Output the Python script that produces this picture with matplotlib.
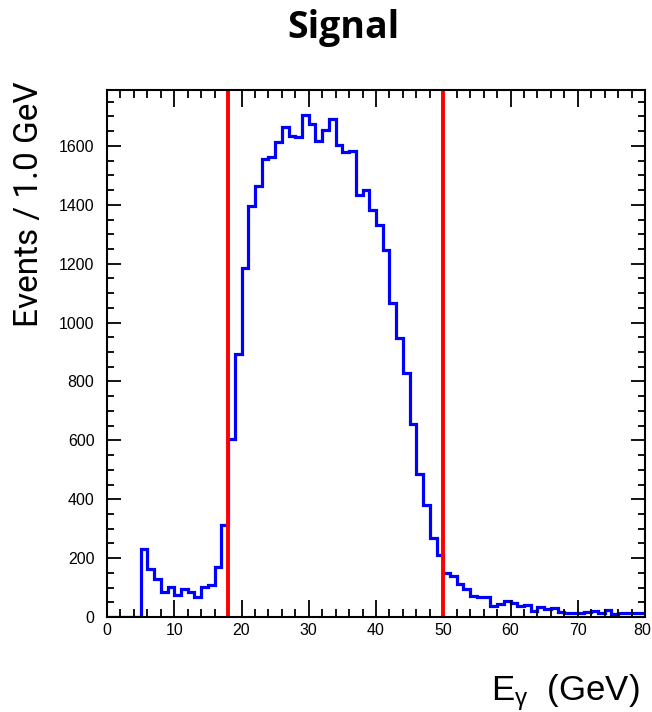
import numpy as np
import matplotlib
matplotlib.use("Agg")
import matplotlib.pyplot as plt
import matplotlib.transforms as mtransforms
from matplotlib.ticker import MultipleLocator

edges = np.arange(0, 81, 1.0)
counts = [0, 0, 0, 0, 0, 231, 162, 128, 84, 101,
          75, 94, 85, 69, 103, 108, 169, 311, 603, 892,
          1184, 1397, 1464, 1555, 1564, 1613, 1666, 1635, 1629, 1705,
          1675, 1618, 1654, 1690, 1603, 1578, 1584, 1432, 1450, 1382,
          1332, 1247, 1068, 946, 828, 656, 487, 380, 267, 211,
          150, 140, 112, 95, 72, 69, 67, 38, 44, 54,
          49, 38, 41, 22, 33, 26, 29, 18, 15, 15,
          15, 18, 22, 15, 24, 10, 12, 12, 12, 12]
cut_lines = [18.0, 50.0]
title = "Signal"
ylabel = "Events / 1.0 GeV"
xlabel = r"$\mathregular{E_{γ}}$  (GeV)"

plt.rcParams["mathtext.fontset"] = "custom"
plt.rcParams["mathtext.rm"] = "Liberation Sans"

fig = plt.figure(figsize=(6.52, 7.12), dpi=100)
ax = fig.add_axes([107/652, 1-617/712, (645-107)/652, (617-90)/712])

ax.stairs(counts, edges, color="#0000ff", lw=2.3, baseline=None)
for c in cut_lines:
    ax.axvline(c, color="#ff0000", lw=2.8)

ax.set_xlim(0, 80)
ax.set_ylim(0, 1790)
ax.xaxis.set_major_locator(MultipleLocator(10))
ax.xaxis.set_minor_locator(MultipleLocator(2))
ax.yaxis.set_major_locator(MultipleLocator(200))
ax.yaxis.set_minor_locator(MultipleLocator(50))
ax.tick_params(which="both", direction="in", top=True, right=True, width=1.3, colors="black")
ax.tick_params(axis="x", which="major", length=12, pad=4)
ax.tick_params(axis="x", which="minor", length=6)
ax.tick_params(axis="y", which="major", length=10, pad=9)
ax.tick_params(axis="y", which="minor", length=5)
for lab in ax.get_xticklabels() + ax.get_yticklabels():
    lab.set_fontfamily("Liberation Sans")
    lab.set_fontsize(11.5)
for s in ax.spines.values():
    s.set_linewidth(1.5)

fig.canvas.draw()
for lab in ax.get_xticklabels():
    if lab.get_text() == "80":
        lab.set_transform(lab.get_transform() +
                          mtransforms.ScaledTranslation(-3/100, 0, fig.dpi_scale_trans))

fig.text(343/652, 1-28/712, title, ha="center", va="center",
         fontsize=27, fontweight="bold", family="Open Sans")
fig.text(29/652, 1-204/712, ylabel, ha="center", va="center", rotation=90,
         fontsize=24, family="Roboto")
fig.text(640/652, 1-700/712, xlabel, ha="right", va="baseline",
         fontsize=25, family="Liberation Sans")

fig.savefig("out.png", dpi=100)
